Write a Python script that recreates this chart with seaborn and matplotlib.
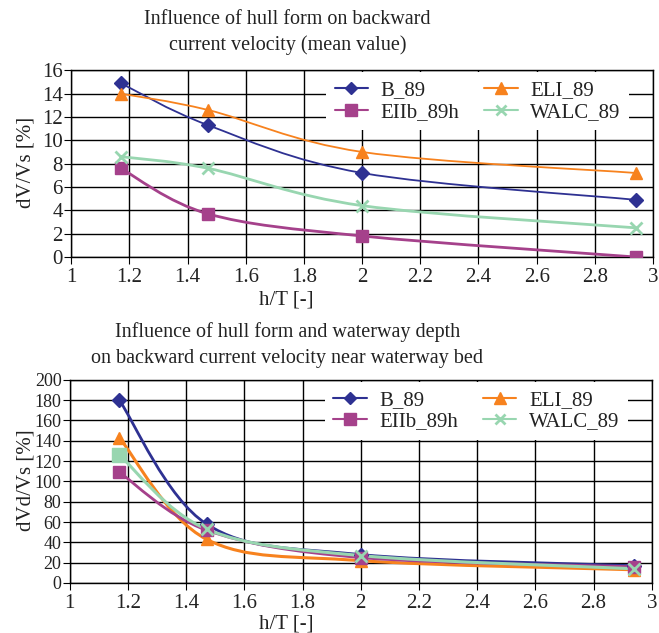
import numpy as np
import matplotlib
matplotlib.use("Agg")
import matplotlib.pyplot as plt
from matplotlib.path import Path
from matplotlib.patches import PathPatch
from matplotlib.lines import Line2D
import seaborn as sns

# data
h_T = [1.17, 1.47, 2.0, 2.94]
series = ["B_89", "ELI_89", "EIIb_89h", "WALC_89"]

mean_B = [14.9, 11.3, 7.2, 4.9]
mean_ELI = [14.0, 12.6, 9.0, 7.2]
mean_EIIb = [7.6, 3.7, 1.8, 0.0]
mean_WALC = [8.6, 7.6, 4.4, 2.5]

bed_B = [180, 58, 28, 17]
bed_ELI = [143, 43, 22, 13]
bed_EIIb = [109, 52, 25, 16]
bed_WALC = [126, 53, 27, 14]

colors = {"B_89": "#2e3192", "ELI_89": "#f7821e", "EIIb_89h": "#a5418b", "WALC_89": "#98d6b0"}
markers = {"B_89": "D", "ELI_89": "^", "EIIb_89h": "s", "WALC_89": "x"}
msize = {"B_89": 7, "ELI_89": 9, "EIIb_89h": 9, "WALC_89": 8}

sns.set_style("ticks")
plt.rcParams["font.family"] = ["Liberation Serif", "DejaVu Serif"]
plt.rcParams["text.color"] = "#222222"


def smooth_path(x, y):
    # Excel-style smoothed line as cubic Bezier segments through the data
    pts = np.column_stack([x, y]).astype(float)
    n = len(pts)
    verts = [pts[0]]
    codes = [Path.MOVETO]
    for i in range(n - 1):
        p0 = pts[max(i - 1, 0)]
        p1 = pts[i]
        p2 = pts[i + 1]
        p3 = pts[min(i + 2, n - 1)]
        c1 = p1 + (p2 - p0) / 6.0
        c2 = p2 - (p3 - p1) / 6.0
        verts += [c1, c2, p2]
        codes += [Path.CURVE4] * 3
    return Path(verts, codes)


def draw(ax, data, lws, first_markers=None):
    for name in series:
        y = data[name]
        ax.add_patch(PathPatch(smooth_path(h_T, y), fill=False,
                               edgecolor=colors[name], lw=lws[name], zorder=3))
        mk = [markers[name]] * len(h_T)
        if first_markers and name in first_markers:
            mk[0] = first_markers[name]
        for xi, yi, m in zip(h_T, y, mk):
            ax.plot([xi], [yi], marker=m, ms=msize[name] + (2 if m == "s" and name == "WALC_89" else 0),
                    color=colors[name], mew=2 if m == "x" else 1, ls="none", zorder=4)


def style_axis(ax, ymax, ystep, yfs):
    ax.set_xlim(1, 3)
    ax.set_ylim(0, ymax)
    ax.set_xticks(np.arange(1, 3.01, 0.2))
    ax.set_xticklabels(["1", "1.2", "1.4", "1.6", "1.8", "2", "2.2", "2.4", "2.6", "2.8", "3"])
    ax.set_yticks(np.arange(0, ymax + 0.1, ystep))
    ax.grid(True, color="black", lw=1.0)
    ax.tick_params(axis="x", labelsize=15, direction="out", length=5, color="black", pad=3)
    ax.tick_params(axis="y", labelsize=yfs, direction="out", length=5, color="black", pad=1)
    for s in ax.spines.values():
        s.set_color("black")
        s.set_linewidth(1.0)
    for lab in ax.get_xticklabels() + ax.get_yticklabels():
        lab.set_color("#222222")
    order = ["B_89", "EIIb_89h", "ELI_89", "WALC_89"]
    handles = [Line2D([], [], color=colors[n], marker=markers[n], lw=1.5,
                      ms=msize[n] - 1, mew=2 if markers[n] == "x" else 1) for n in order]
    leg = ax.legend(handles, order, loc="upper left", bbox_to_anchor=(0.435, 1.0), ncol=2,
                    fontsize=15, frameon=True, fancybox=False, framealpha=1, edgecolor="none",
                    borderaxespad=0.1, handlelength=1.6, handletextpad=0.6, columnspacing=1.2,
                    labelspacing=0.1, borderpad=0.4)
    leg.get_frame().set_facecolor("white")
    leg.set_zorder(5)


fig = plt.figure(figsize=(6.59, 6.33), dpi=100)

ax1 = fig.add_axes([0.108, 0.594, 0.883, 0.295])
draw(ax1, {"B_89": mean_B, "ELI_89": mean_ELI, "EIIb_89h": mean_EIIb, "WALC_89": mean_WALC},
     {"B_89": 1.3, "ELI_89": 1.3, "EIIb_89h": 2.0, "WALC_89": 2.0})
style_axis(ax1, 16, 2, 15)

ax2 = fig.add_axes([0.106, 0.079, 0.883, 0.321])
draw(ax2, {"B_89": bed_B, "ELI_89": bed_ELI, "EIIb_89h": bed_EIIb, "WALC_89": bed_WALC},
     {"B_89": 2.0, "ELI_89": 2.2, "EIIb_89h": 2.0, "WALC_89": 2.2},
     first_markers={"WALC_89": "s"})
style_axis(ax2, 200, 20, 13)

# titles and axis labels sit centred on the original page, not the axes
fig.text(0.436, 1 - 20 / 633, "Influence of hull form on backward", ha="center", va="center", fontsize=14.5)
fig.text(0.436, 1 - 45 / 633, "current velocity (mean value)", ha="center", va="center", fontsize=14.5)
fig.text(0.434, 1 - 300 / 633, "h/T [-]", ha="center", va="center", fontsize=15)
fig.text(0.04, 1 - 162 / 633, "dV/Vs [%]", ha="center", va="center", rotation=90, fontsize=15)

fig.text(0.436, 1 - 332 / 633, "Influence of hull form and waterway depth", ha="center", va="center", fontsize=14.5)
fig.text(0.436, 1 - 358 / 633, "on backward current velocity near waterway bed", ha="center", va="center", fontsize=14.5)
fig.text(0.434, 1 - 624 / 633, "h/T [-]", ha="center", va="center", fontsize=15)
fig.text(0.04, 1 - 480 / 633, "dVd/Vs [%]", ha="center", va="center", rotation=90, fontsize=15)

fig.savefig("out.png", dpi=100)
plt.close()
print("Saved out.png")
